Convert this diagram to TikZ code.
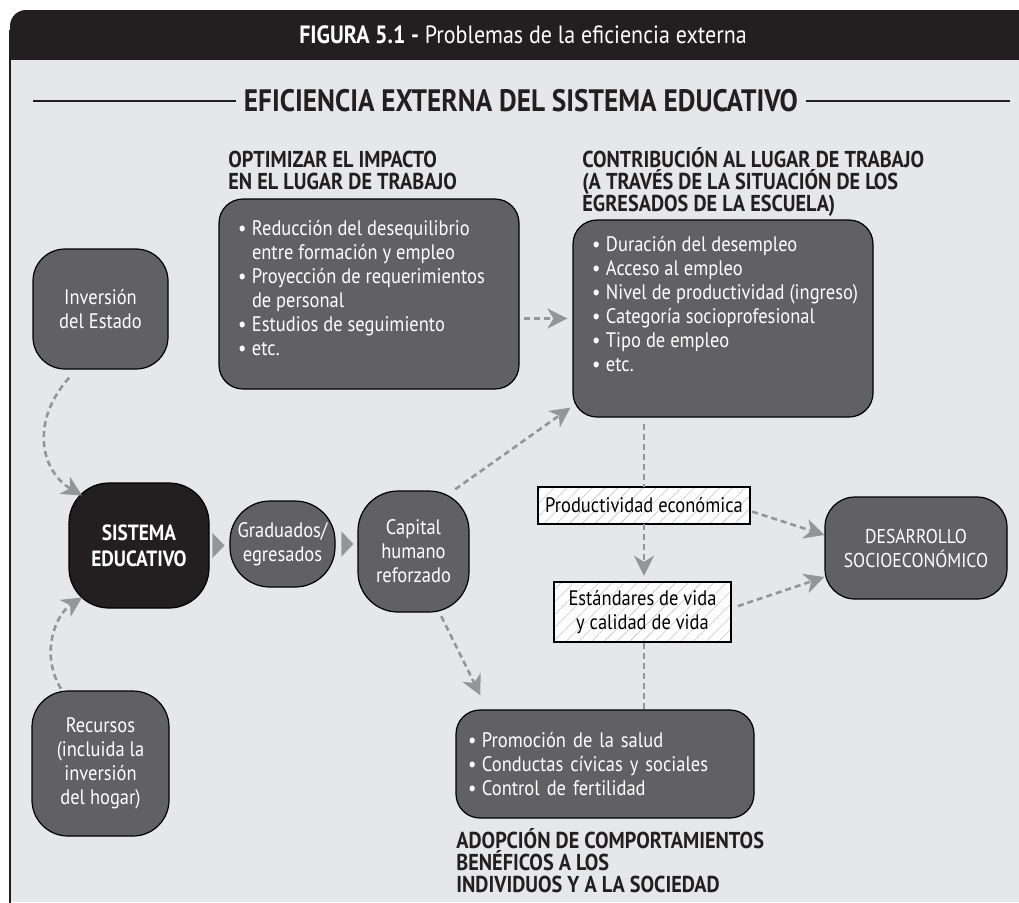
\documentclass[tikz,border=0pt]{standalone}
\usepackage{fontspec}
\setmainfont{PT Sans}[FakeStretch=0.88]
\usetikzlibrary{arrows.meta, positioning, patterns.meta}

\definecolor{framebg}{HTML}{E6E7E8}
\definecolor{boxgray}{HTML}{616163}
\definecolor{darkbox}{HTML}{231F20}
\definecolor{arrowgray}{HTML}{939598}
\definecolor{hatchgray}{HTML}{C4C5C7}

% bullet lists inside the grey boxes
\newcommand{\bul}{\makebox[7pt][l]{\textbullet}}
\newcommand{\indt}{\hspace*{7pt}}
\newcommand{\toplist}[4]{\parbox[c][#2][t]{#1}{\raggedright\leftskip=9.5pt\vspace*{#3}#4}}

\begin{document}
\begin{tikzpicture}[
    x=0.5pt, y=-0.5pt,
    every node/.style={font=\fontsize{10.5}{12}\selectfont},
    gbox/.style={rectangle, draw=black, line width=0.6pt, fill=boxgray, text=white, align=center, rounded corners=18pt, inner sep=0pt},
    listbox/.style={rectangle, draw=black, line width=0.6pt, fill=boxgray, text=white, rounded corners=12pt, inner sep=0pt},
    hatchbox/.style={rectangle, draw=black, line width=1.2pt, preaction={fill=white}, pattern={Lines[angle=45, distance=4.5pt, line width=0.3pt]}, pattern color=hatchgray, align=center, inner sep=0pt},
    head/.style={font=\fontsize{11.5}{11}\selectfont\bfseries, text=darkbox, align=left, anchor=north west, inner sep=0pt},
    darrow/.style={arrowgray, line width=1.3pt, dash pattern=on 3pt off 2pt, -{Stealth[length=10pt, width=10pt, inset=3pt]}},
    dline/.style={arrowgray, line width=1.3pt, dash pattern=on 3pt off 2pt},
    tri/.style={arrowgray, line width=0.1pt, -{Triangle[length=6pt, width=12.5pt]}}
]
\useasboundingbox (0,0) rectangle (1019,902);

% ============ FRAME ============
\fill[darkbox, rounded corners=8pt] (10,10) rectangle (1040,80);
\fill[framebg] (10,60) rectangle (1019,902);
\draw[darkbox, line width=1pt] (10,30) -- (10,910);

\node[text=white, font=\fontsize{12.5}{14}\selectfont] (title) at (523,35) {\textbf{FIGURA 5.1 -} Problemas de la eficiencia externa};

\node[font=\fontsize{15.5}{17}\selectfont\bfseries, text=darkbox, inner xsep=4pt] (subtitle) at (521,101) {EFICIENCIA EXTERNA DEL SISTEMA EDUCATIVO};
\coordinate (ruleL) at (33,101);
\coordinate (ruleR) at (1010,101);
\draw[darkbox, line width=1.3pt] (ruleL) -- (subtitle.west);
\draw[darkbox, line width=1.3pt] (subtitle.east) -- (ruleR);

% ============ INPUTS ============
\node[gbox, minimum width=67.5pt, minimum height=60pt, rounded corners=16pt] (inv) at (100.5,309) {Inversión\\del Estado};
\node[gbox, minimum width=68.5pt, minimum height=72.5pt] (rec) at (100.5,763.5) {Recursos\\(incluida la\\inversión\\del hogar)};

% ============ MAIN CHAIN ============
\node[gbox, fill=darkbox, minimum width=70pt, minimum height=62.5pt, rounded corners=20pt, font=\fontsize{11}{13}\selectfont\bfseries] (sis) at (139,545.5) {SISTEMA\\EDUCATIVO};
\node[gbox, minimum width=52.5pt, minimum height=43pt, rounded corners=20pt] (grad) at (282.5,544) {Graduados/\\egresados};
\node[gbox, minimum width=55.5pt, minimum height=60.5pt, rounded corners=20pt] (cap) at (413.5,551.5) {Capital\\humano\\reforzado};

\draw[tri, shorten <=1.5pt, shorten >=2.5pt] (sis.east) -- (sis.east -| grad.west);
\draw[tri, shorten <=3pt, shorten >=2pt] (grad.east) -- (grad.east -| cap.west);

% ============ WORKPLACE ============
\node[head] (hopt) at (228,151) {OPTIMIZAR EL IMPACTO\\EN EL LUGAR DE TRABAJO};
\node[listbox] (opt) at (369,294) {\toplist{150pt}{95pt}{10.5pt}{%
    \bul Reducción del desequilibrio\\
    \indt entre formación y empleo\\
    \bul Proyección de requerimientos\\
    \indt de personal\\
    \bul Estudios de seguimiento\\
    \bul etc.}};

\node[head] (hcon) at (582,147) {CONTRIBUCIÓN AL LUGAR DE TRABAJO\\(A TRAVÉS DE LA SITUACIÓN DE LOS\\EGRESADOS DE LA ESCUELA)};
\node[listbox] (con) at (723,318.5) {\toplist{150pt}{98.5pt}{8pt}{%
    \bul Duración del desempleo\\
    \bul Acceso al empleo\\
    \bul Nivel de productividad (ingreso)\\
    \bul Categoría socioprofesional\\
    \bul Tipo de empleo\\
    \bul etc.}};

% ============ OUTCOMES ============
\node[hatchbox, minimum width=106pt, minimum height=18.5pt] (prod) at (644,505.5) {Productividad económica};
\node[hatchbox, minimum width=88.5pt, minimum height=30pt] (est) at (642.5,612) {Estándares de vida\\y calidad de vida};
\node[gbox, minimum width=91pt, minimum height=51pt, rounded corners=15pt, font=\fontsize{10}{12}\selectfont] (des) at (916,548) {DESARROLLO\\SOCIOECONÓMICO};

\node[listbox, minimum width=149pt, minimum height=54pt, text width=137pt, inner xsep=6pt, align=left] (pro) at (605,764) {%
    \bul Promoción de la salud\\
    \bul Conductas cívicas y sociales\\
    \bul Control de fertilidad};
\node[head] (hpro) at (456,828) {ADOPCIÓN DE COMPORTAMIENTOS\\BENÉFICOS A LOS\\INDIVIDUOS Y A LA SOCIEDAD};

% ============ CONNECTING ARROWS ============
\draw[darrow, shorten <=5.5pt] ([xshift=-12pt]inv.south) .. controls +(-46,51) and +(-42,-25) .. ([shift={(-57,-50)}]sis.center);
\draw[darrow, shorten <=1pt] ([xshift=-19.25pt]rec.north) .. controls +(-22,-36) and +(-27,17.5) .. ([shift={(-57,52)}]sis.center);

\draw[darrow, shorten <=2pt, shorten >=2.5pt] (opt.east |- con.west) -- (con.west);
\draw[darrow, shorten <=1pt] ([xshift=-8pt]cap.north east) -- ([shift={(-1pt,5pt)}]con.south west);
\draw[darrow, shorten <=2pt] ([xshift=13pt]cap.south) -- ([shift={(25,-14)}]pro.north west);

\draw[dline, shorten <=3pt] (prod.north |- con.south) -- (prod.north);
\draw[darrow, shorten >=2.5pt] (prod.south) -- (prod.south |- est.north);
\draw[dline] (prod.south |- est.south) -- (prod.south |- pro.north);

\draw[darrow, shorten <=1pt] ([yshift=-2.75pt]prod.east) -- ([yshift=6.5pt]des.west);
\draw[darrow, shorten <=3pt] ([yshift=2pt]est.east) -- ([yshift=-14.5pt]des.west);

\end{tikzpicture}
\end{document}
